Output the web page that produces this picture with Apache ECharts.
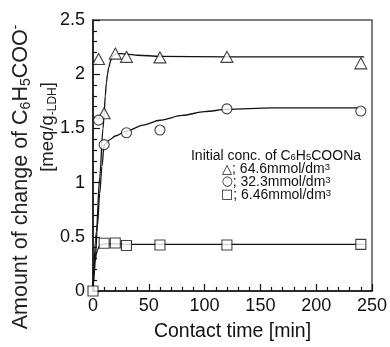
<!DOCTYPE html>
<html>
<head>
<meta charset="utf-8">
<script src="https://cdn.jsdelivr.net/npm/echarts@6/dist/echarts.min.js"></script>
<style>
  html, body { margin: 0; padding: 0; background: #fff; }
  #chart { width: 390px; height: 347px; }
</style>
</head>
<body>
<div id="chart"></div>
<script>
// ── 测定点 ──
const timeTri = [5, 10, 20, 30, 60, 120, 240]
const valTri = [2.14, 1.64, 2.19, 2.16, 2.155, 2.16, 2.10]
const timeCir = [5, 10, 30, 60, 120, 240]
const valCir = [1.576, 1.35, 1.46, 1.485, 1.68, 1.66]
const timeSq = [0, 10, 20, 30, 60, 120, 240]
const valSq = [0, 0.44, 0.443, 0.42, 0.425, 0.425, 0.43]

// ── 拟合曲线 ──
const fitTriT = [0, 3, 6, 9, 10, 11, 12, 13, 14, 16, 18, 20, 25, 30, 40, 60, 120, 243]
const fitTri = [0, 0.55, 1.05, 1.5, 1.64, 1.8, 1.92, 2.0, 2.06, 2.13, 2.17, 2.185, 2.19, 2.185, 2.175, 2.165, 2.16, 2.16]
const fitCirT = [0, 2, 4, 6, 8, 10, 15, 20, 30, 45, 60, 80, 100, 120, 160, 200, 243]
const fitCir = [0, 0.3, 0.6, 0.9, 1.15, 1.35, 1.395, 1.43, 1.475, 1.53, 1.575, 1.62, 1.655, 1.675, 1.69, 1.69, 1.69]
const fitSqT = [0, 1, 2, 3, 4, 6, 8, 10, 20, 30, 60, 120, 243]
const fitSq = [0, 0.15, 0.27, 0.34, 0.38, 0.42, 0.43, 0.435, 0.435, 0.43, 0.43, 0.43, 0.43]

const legendLines = [
  '{t|Initial conc. of C}{s|6}{t|H}{s|5}{t|COONa}',
  '{m|△}{t|; 64.6mmol/dm}{p|3}',
  '{m|○}{t|; 32.3mmol/dm}{p|3}',
  '{m|□}{t|; 6.46mmol/dm}{p|3}',
]

const FONT = '"Liberation Sans", Arial, sans-serif'
const zip = (xs, ys) => xs.map((x, i) => [x, ys[i]])

const chart = echarts.init(document.getElementById('chart'), null, { renderer: 'canvas' })

const markerStyle = { color: '#fff', borderColor: '#111', borderWidth: 1.1 }
const fitLine = { color: '#111', width: 1.3 }

const option = {
  animation: false,
  backgroundColor: '#fff',
  textStyle: { fontFamily: FONT },
  grid: { left: 93, right: 18, top: 20, bottom: 51, show: true, borderColor: '#555', borderWidth: 1.5 },
  xAxis: {
    type: 'value', min: 0, max: 250, interval: 50,
    name: 'Contact time [min]', nameLocation: 'middle', nameGap: 31,
    nameTextStyle: { fontSize: 19.5, color: '#111', fontFamily: FONT },
    axisLine: { lineStyle: { color: '#111', width: 1.5 } },
    axisTick: { inside: true, length: 7, lineStyle: { color: '#111', width: 1.2 } },
    minorTick: { show: true, splitNumber: 5, length: 4, lineStyle: { color: '#111', width: 1.2 } },
    axisLabel: { fontSize: 18, color: '#111', margin: 6, fontFamily: FONT },
    splitLine: { show: false },
  },
  yAxis: {
    type: 'value', min: 0, max: 2.5, interval: 0.5,
    axisLine: { lineStyle: { color: '#111', width: 1.5 } },
    axisTick: { inside: true, length: 7, lineStyle: { color: '#111', width: 1.2 } },
    minorTick: { show: true, splitNumber: 5, length: 4, lineStyle: { color: '#111', width: 1.2 } },
    axisLabel: { fontSize: 18, color: '#111', margin: 8, fontFamily: FONT },
    splitLine: { show: false },
  },
  graphic: [
    {
      type: 'text', x: 21, y: 177, rotation: Math.PI / 2,
      style: {
        text: '{n|Amount of change of C}{s|6}{n|H}{s|5}{n|COO}{p|-}',
        align: 'center', verticalAlign: 'middle',
        rich: {
          n: { fontSize: 21.5, fontFamily: FONT, fill: '#222', lineHeight: 24 },
          s: { fontSize: 14, fontFamily: FONT, fill: '#222', lineHeight: 24, verticalAlign: 'bottom', padding: [6, 0, 0, 0] },
          p: { fontSize: 14, fontFamily: FONT, fill: '#222', lineHeight: 24, verticalAlign: 'top', padding: [0, 0, 8, 0] },
        },
      },
    },
    {
      type: 'text', x: 48, y: 127, rotation: Math.PI / 2,
      style: {
        text: '{n|[meq/g}{s|-LDH}{n|]}',
        align: 'center', verticalAlign: 'middle',
        rich: {
          n: { fontSize: 18.5, fontFamily: FONT, fill: '#222', lineHeight: 22 },
          s: { fontSize: 12, fontFamily: FONT, fill: '#222', lineHeight: 22, verticalAlign: 'bottom', padding: [6, 0, 0, 0] },
        },
      },
    },
    {
      type: 'text', x: 276, y: 150,
      style: {
        text: legendLines.join('\n'),
        align: 'center', verticalAlign: 'top',
        rich: {
          t: { fontSize: 14, fontFamily: FONT, fill: '#111', lineHeight: 12.8 },
          m: { fontSize: 13, fontFamily: '"DejaVu Sans", sans-serif', fill: '#111', lineHeight: 12.8 },
          s: { fontSize: 9.5, fontFamily: FONT, fill: '#111', lineHeight: 12.8, verticalAlign: 'bottom', padding: [4, 0, 0, 0] },
          p: { fontSize: 9.5, fontFamily: FONT, fill: '#111', lineHeight: 12.8, verticalAlign: 'top', padding: [0, 0, 5, 0] },
        },
      },
    },
  ],
  series: [
    { type: 'line', data: zip(fitTriT, fitTri), showSymbol: false, smooth: 0.3, smoothMonotone: 'x', lineStyle: fitLine, z: 2 },
    { type: 'line', data: zip(fitCirT, fitCir), showSymbol: false, smooth: 0.3, smoothMonotone: 'x', lineStyle: fitLine, z: 2 },
    { type: 'line', data: zip(fitSqT, fitSq), showSymbol: false, smooth: 0.3, smoothMonotone: 'x', lineStyle: fitLine, z: 2 },
    { type: 'scatter', data: zip(timeTri, valTri), symbol: 'triangle', symbolSize: [12, 11], itemStyle: markerStyle, z: 5 },
    { type: 'scatter', data: zip(timeCir, valCir), symbol: 'circle', symbolSize: 10, itemStyle: markerStyle, z: 5 },
    { type: 'scatter', data: zip(timeSq, valSq), symbol: 'rect', symbolSize: 10, itemStyle: markerStyle, z: 5 },
  ],
}

chart.setOption(option)
</script>
</body>
</html>
